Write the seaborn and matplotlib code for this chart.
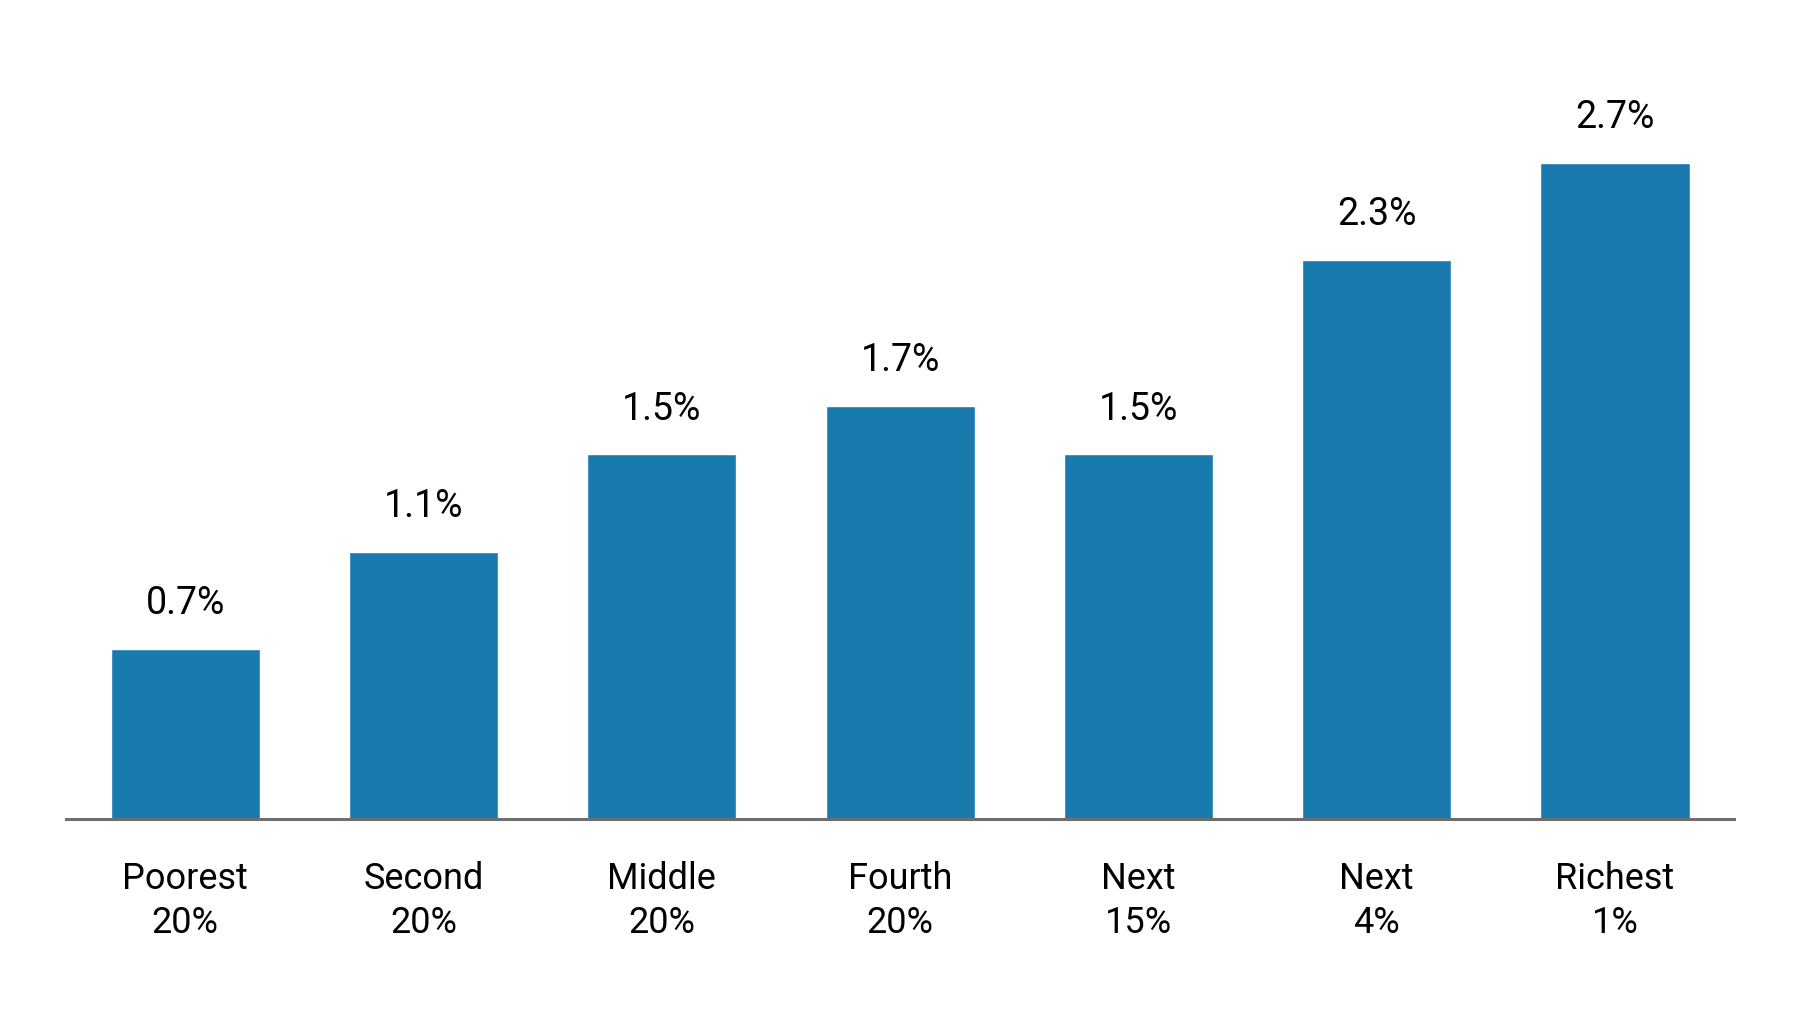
import pandas as pd
import matplotlib.pyplot as plt
import seaborn as sns

# Groups along the income distribution and their value
groups = ["Poorest\n20%", "Second\n20%", "Middle\n20%", "Fourth\n20%",
          "Next\n15%", "Next\n4%", "Richest\n1%"]
values = [0.7, 1.1, 1.5, 1.7, 1.5, 2.3, 2.7]
value_labels = ["0.7%", "1.1%", "1.5%", "1.7%", "1.5%", "2.3%", "2.7%"]

bar_color = "#197BAD"

df = pd.DataFrame({"group": groups, "value": values})

sns.set_theme(style="white")
plt.rcParams['font.family'] = ['Roboto', 'DejaVu Sans']

fig = plt.figure(figsize=(18, 10.21), dpi=100)
ax = fig.add_axes([0.0367, 0.198, 0.9267, 0.714])

sns.barplot(data=df, x="group", y="value", color=bar_color, saturation=1,
            width=0.626, ax=ax)

# Etykiety wartości nad słupkami
for i, (v, lab) in enumerate(zip(values, value_labels)):
    ax.annotate(lab, (i, v), xytext=(0, 25), textcoords="offset points",
                ha="center", va="baseline", fontsize=27, color="black")

ax.set_ylim(0, 3.0)
ax.set_xlim(-0.5, len(groups) - 0.5)
ax.set_xlabel("")
ax.set_ylabel("")
ax.set_yticks([])
ax.tick_params(axis="x", length=0, pad=30, labelsize=26, colors="black")
for t in ax.get_xticklabels():
    t.set_linespacing(1.3)

for side in ["top", "left", "right"]:
    ax.spines[side].set_visible(False)
ax.spines["bottom"].set_color("#6e6e6e")
ax.spines["bottom"].set_linewidth(2.2)

plt.savefig("out.png", dpi=100)
